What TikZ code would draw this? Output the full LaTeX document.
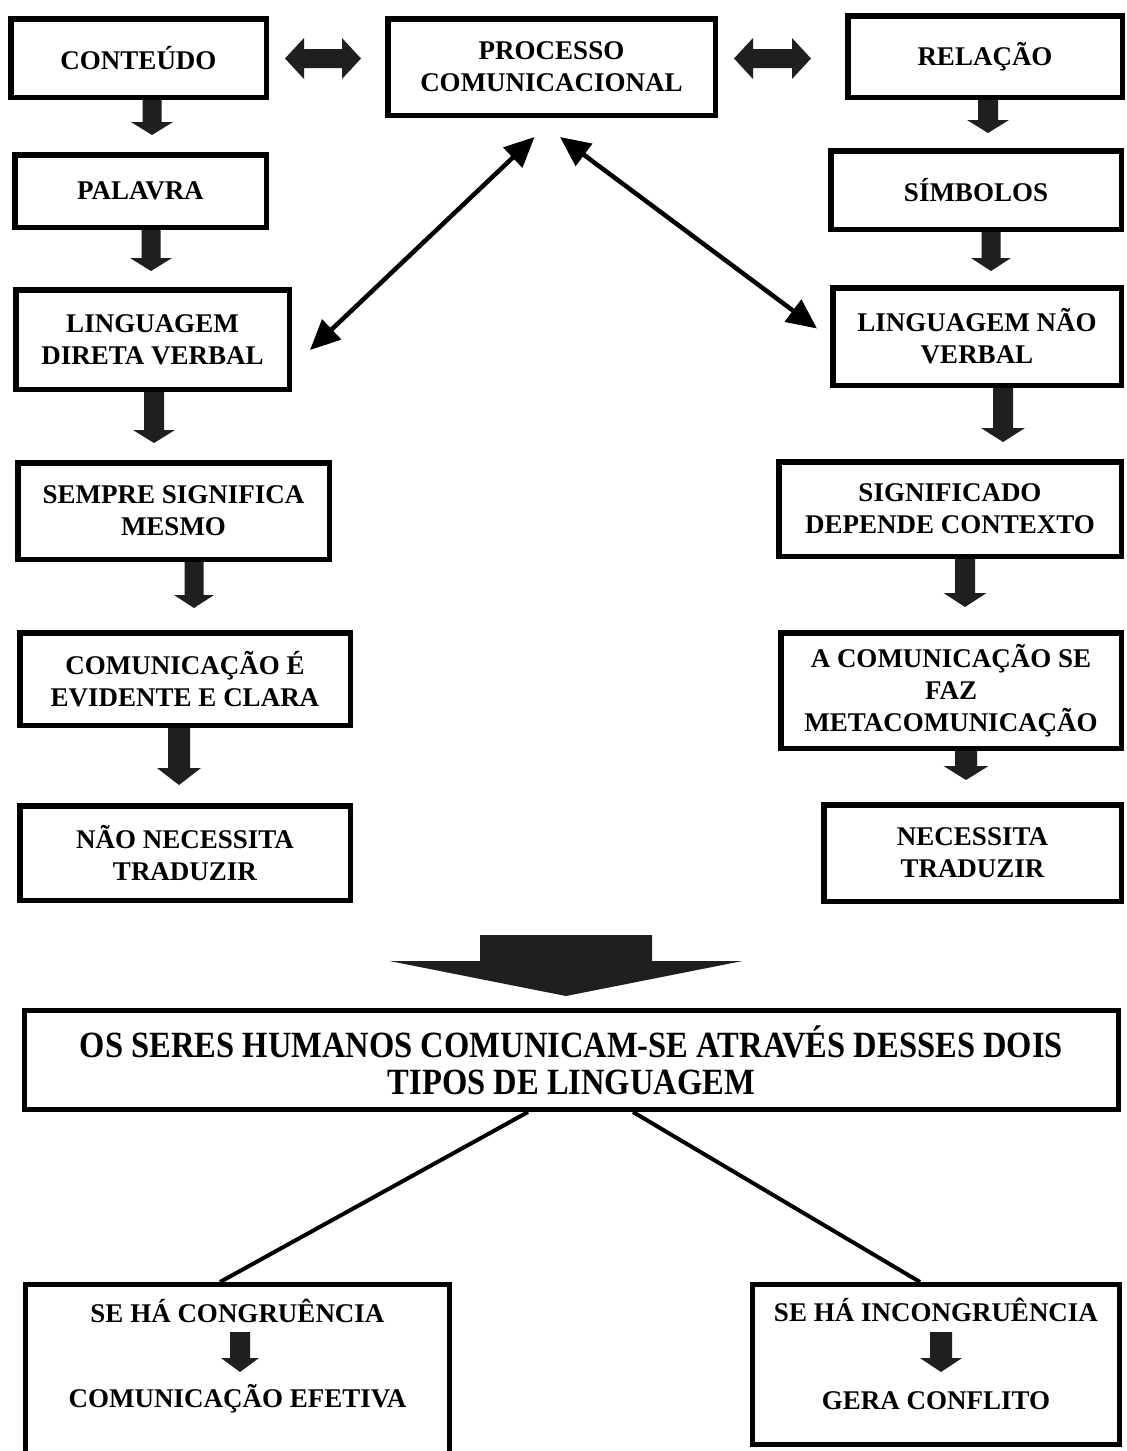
\documentclass[tikz,border=0pt]{standalone}
\usepackage{fontspec}
\setmainfont{Liberation Serif}
\newfontfamily\condfont[FakeStretch=0.88]{Liberation Serif}
\usetikzlibrary{arrows.meta,calc}

\tikzset{
  box/.style={draw=black, line width=5.5pt, rectangle, inner sep=0pt, align=center,
    font=\bfseries\fontsize{27}{32}\selectfont},
  barrow/.style={fill=black!88},
  diag/.style={line width=4.5pt, {Triangle[length=30pt,width=27pt]}-{Triangle[length=30pt,width=27pt]}},
  tree/.style={line width=4pt},
  lbl/.style={font=\bfseries\fontsize{27}{32}\selectfont, inner sep=0pt, anchor=base},
}

% vertical block arrow: #1 x, #2 top point, #3 target point, #4 gap above target,
% #5 shaft half width, #6 head half width, #7 head length
\newcommand{\blockdn}[7]{%
  \fill[barrow] let \p1=#2, \p2=#3 in
    ({#1pt-#5pt},\y1) -- ({#1pt+#5pt},\y1) -- ({#1pt+#5pt},\y2+#4pt+#7pt)
    -- ({#1pt+#6pt},\y2+#4pt+#7pt) -- (#1pt,\y2+#4pt)
    -- ({#1pt-#6pt},\y2+#4pt+#7pt) -- ({#1pt-#5pt},\y2+#4pt+#7pt) -- cycle;}

% horizontal double block arrow: #1 left point, #2 right point, #3 y,
% #4 shaft half height, #5 head half height, #6 head length
\newcommand{\blockdbl}[6]{%
  \fill[barrow] let \p1=#1, \p2=#2 in
    (\x1,#3pt) -- (\x1+#6pt,#3pt+#5pt) -- (\x1+#6pt,#3pt+#4pt) -- (\x2-#6pt,#3pt+#4pt)
    -- (\x2-#6pt,#3pt+#5pt) -- (\x2,#3pt) -- (\x2-#6pt,#3pt-#5pt) -- (\x2-#6pt,#3pt-#4pt)
    -- (\x1+#6pt,#3pt-#4pt) -- (\x1+#6pt,#3pt-#5pt) -- cycle;}

\begin{document}
\begin{tikzpicture}[x=1pt,y=1pt]
\useasboundingbox[fill=white] (0,0) rectangle (1127,-1451);

% top row
\node[box, minimum width=255.5pt, minimum height=78.5pt] (cont) at (138.5,-58) {CONTEÚDO};
\node[box, minimum width=327.5pt, minimum height=96.5pt] (proc) at (551.5,-67) {PROCESSO\\COMUNICACIONAL};
\node[box, minimum width=274.5pt, minimum height=81.5pt] (rel) at (985,-56.5) {RELAÇÃO};

% left column
\node[box, minimum width=251.5pt, minimum height=72.5pt] (pal) at (140.5,-191) {PALAVRA};
\node[box, minimum width=273.5pt, minimum height=99.5pt] (ldv) at (152.5,-339.5) {LINGUAGEM\\DIRETA VERBAL};
\node[box, minimum width=311.5pt, minimum height=96.5pt] (sempre) at (173.5,-511) {SEMPRE SIGNIFICA\\MESMO};
\node[box, minimum width=330.5pt, minimum height=92.5pt] (evid) at (185,-679) {COMUNICAÇÃO É\\EVIDENTE E CLARA};
\node[box, minimum width=330.5pt, minimum height=94.5pt] (nao) at (185,-853) {NÃO NECESSITA\\TRADUZIR};

% right column
\node[box, minimum width=290.5pt, minimum height=78.5pt] (simb) at (976,-190) {SÍMBOLOS};
\node[box, minimum width=288.5pt, minimum height=97.5pt] (lnv) at (977,-336.5) {LINGUAGEM NÃO\\VERBAL};
\node[box, minimum width=342.5pt, minimum height=94.5pt] (sig) at (950,-509) {SIGNIFICADO\\DEPENDE CONTEXTO};
\node[box, minimum width=340.5pt, minimum height=115.5pt] (meta) at (951,-690.5) {A COMUNICAÇÃO SE\\FAZ\\METACOMUNICAÇÃO};
\node[box, minimum width=297.5pt, minimum height=96.5pt] (nec) at (972.5,-853) {NECESSITA\\TRADUZIR};

% main box
\node[box, line width=5pt, minimum width=1094pt, minimum height=99pt,
  font=\condfont\bfseries\fontsize{37}{37}\selectfont] (main) at (571.5,-1060)
  {OS SERES HUMANOS COMUNICAM-SE ATRAVÉS DESSES DOIS\\TIPOS DE LINGUAGEM};

% bottom boxes
\node[box, line width=5pt, minimum width=424pt, minimum height=183pt] (cong) at (237.5,-1376) {};
\node[box, line width=5pt, minimum width=367pt, minimum height=160pt] (incong) at (936,-1364.5) {};
\node[lbl] (cga) at (237.5,-1322) {SE HÁ CONGRUÊNCIA};
\node[lbl] (cgb) at (237.5,-1407) {COMUNICAÇÃO EFETIVA};
\node[lbl] (ica) at (936,-1321) {SE HÁ INCONGRUÊNCIA};
\node[lbl] (icb) at (936,-1409) {GERA CONFLITO};
\coordinate (cgtop) at (240,-1332);
\coordinate (cgtip) at (240,-1372);
\coordinate (ictop) at (941,-1332);
\coordinate (ictip) at (941,-1372);
\coordinate (bigtop) at (566,-935);

% horizontal double arrows
\blockdbl{($(cont.east)+(16,0)$)}{($(proc.west)+(-24,0)$)}{-58.5}{9.5}{20.5}{19}
\blockdbl{($(proc.east)+(16,0)$)}{($(rel.west)+(-34,0)$)}{-58.5}{9.5}{20.5}{19}

% left column arrows
\blockdn{152}{(cont.south)}{(pal.north)}{17}{9.5}{21}{13}
\blockdn{151}{(pal.south)}{(ldv.north)}{16}{9.5}{21}{13}
\blockdn{154}{(ldv.south)}{(sempre.north)}{17}{10}{21}{13}
\blockdn{194}{(sempre.south)}{(evid.north)}{22}{9.5}{20}{13}
\blockdn{179}{(evid.south)}{(nao.north)}{18}{11}{22}{17}

% right column arrows
\blockdn{988}{(rel.south)}{(simb.north)}{15}{10}{21}{13}
\blockdn{991}{(simb.south)}{(lnv.north)}{14}{9.5}{20}{13}
\blockdn{1003}{(lnv.south)}{(sig.north)}{17}{10}{22}{14}
\blockdn{965}{(sig.south)}{(meta.north)}{23}{10}{21.5}{14}
\blockdn{966}{(meta.south)}{(nec.north)}{22}{11}{22.5}{14}

% big arrow
\blockdn{566}{(bigtop)}{(main.north)}{12}{86}{176.5}{35}

% arrows inside bottom boxes
\blockdn{240}{(cgtop)}{(cgtip)}{0}{10}{19}{14}
\blockdn{941}{(ictop)}{(ictip)}{0}{11}{21}{14}

% diagonal double arrows
\draw[diag] ($(proc.south)+(-17,-19)$) -- ($(ldv.east)+(18,-10.5)$);
\draw[diag] ($(proc.south)+(8.5,-19)$) -- ($(lnv.west)+(-13,8)$);

% tree lines
\draw[tree] ($(main.south)+(-43.5,0)$) -- ($(cong.north)+(-17.5,0)$);
\draw[tree] ($(main.south)+(61.5,0)$) -- ($(incong.north)+(-16,0)$);
\end{tikzpicture}
\end{document}
